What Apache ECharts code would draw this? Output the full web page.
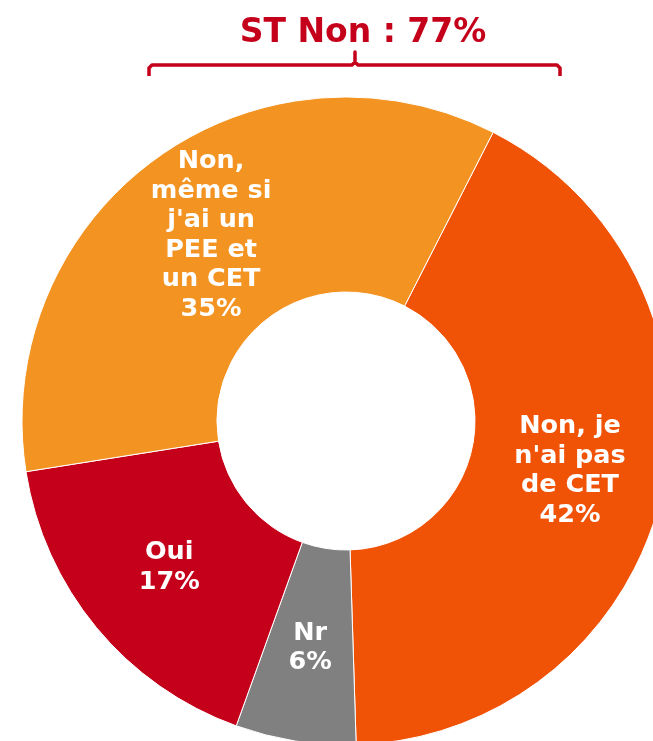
<!DOCTYPE html>
<html>
<head>
<meta charset="utf-8">
<script src="https://cdn.jsdelivr.net/npm/echarts@6/dist/echarts.min.js"></script>
<style>html,body{margin:0;padding:0;background:#fff}#c{width:653px;height:741px}</style>
</head>
<body>
<div id="c"></div>
<script>
var categories = ["Non, je\nn'ai pas\nde CET", "Nr", "Oui", "Non,\nmême si\nj'ai un\nPEE et\nun CET"];
var values = [42, 6, 17, 35];
var colors = ["#F05206", "#808080", "#C5001A", "#F39321"];
var titleText = "ST Non : 77%";

var chart = echarts.init(document.getElementById('c'), null, {renderer: 'canvas'});
var data = categories.map(function (c, i) {
  return {name: c, value: values[i], itemStyle: {color: colors[i]}};
});
chart.setOption({
  animation: false,
  title: {
    text: titleText,
    left: 358, top: 12, textAlign: 'center',
    textStyle: {fontFamily: 'DejaVu Sans', fontWeight: 'bold', fontSize: 33, color: '#C5001A'}
  },
  graphic: [{
    type: 'polyline',
    shape: {points: [[149, 76], [149, 68], [152, 65], [352, 65], [355, 62], [355, 52], [355, 62], [358, 65], [557, 65], [560, 68], [560, 76]]},
    style: {stroke: '#C5001A', lineWidth: 3.5, fill: null, lineJoin: 'round'}
  }],
  series: [{
    type: 'pie',
    center: [346, 421],
    radius: [129, 324],
    startAngle: 63,
    clockwise: true,
    avoidLabelOverlap: false,
    itemStyle: {borderColor: '#fff', borderWidth: 1},
    label: {
      show: true, position: 'inside',
      formatter: function (p) { return p.name + '\n' + p.value + '%'; },
      fontFamily: 'DejaVu Sans', fontWeight: 'bold', fontSize: 25.5, lineHeight: 29.5,
      color: '#fff', align: 'center'
    },
    labelLine: {show: false},
    emphasis: {disabled: true},
    data: data
  }]
});
</script>
</body>
</html>
